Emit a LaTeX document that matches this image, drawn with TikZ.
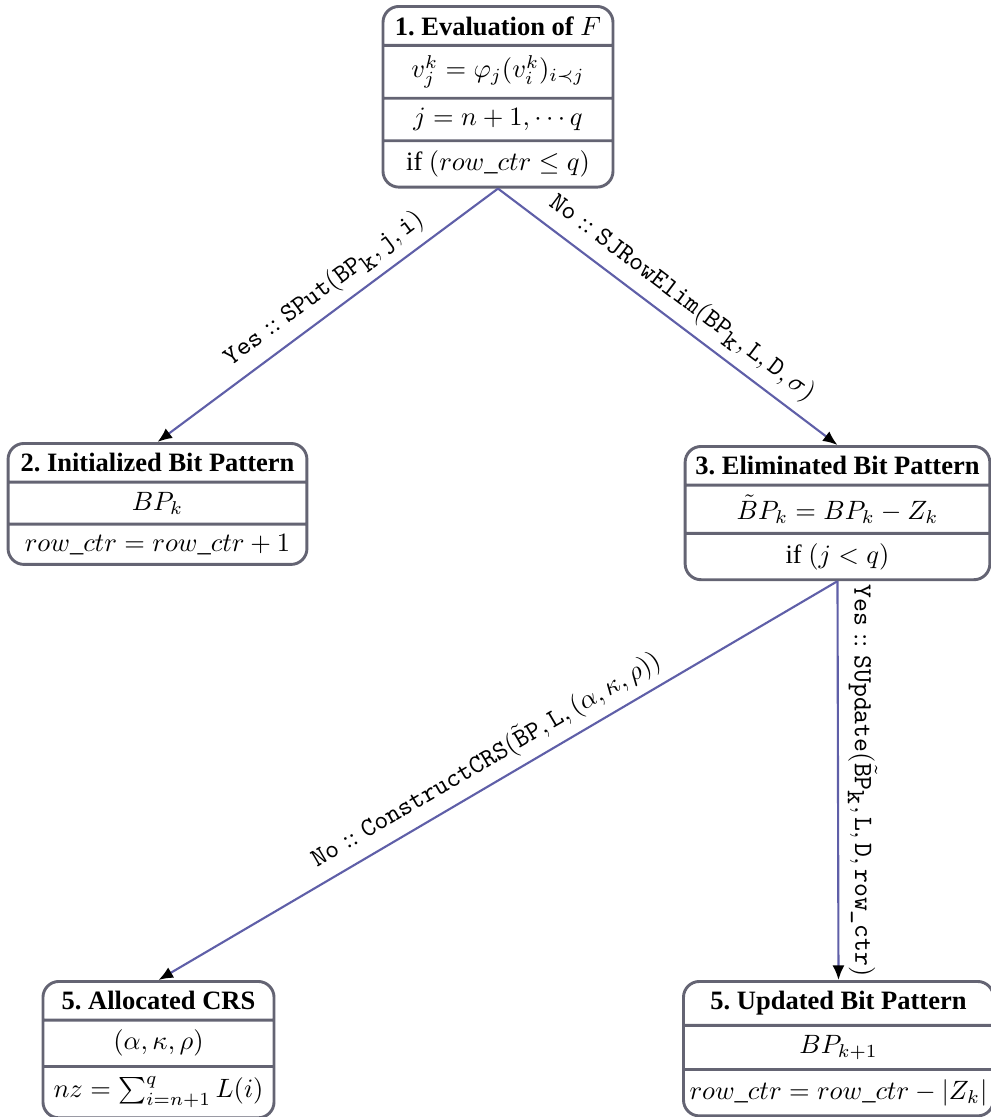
\documentclass[tikz,border=0pt]{standalone}
\usepackage[no-math]{fontspec}
\setmainfont{Liberation Serif}
\usetikzlibrary{shapes.multipart,arrows.meta}
\frenchspacing

\definecolor{boxgray}{RGB}{100,100,115}
\definecolor{flowblue}{RGB}{95,95,168}

\begin{document}
\begin{tikzpicture}[x=0.3774pt, y=-0.3774pt]
\tikzset{stage/.style={rectangle split, rectangle split parts=#1, draw=boxgray,
    line width=1.1pt, rounded corners=6pt, inner xsep=1.5pt, inner ysep=3.2pt,
    align=flush center, anchor=north},
  flow/.style={draw=flowblue, line width=0.8pt, -{Latex[black,length=5.5pt,width=4.5pt]}},
  cond/.style={sloped, above}}
\useasboundingbox (0,0) rectangle (991,1117);
% the stages
\node[stage=4, text width=83.8pt] (eval) at (498,5) {\textbf{1. Evaluation of $F$}
  \nodepart{two} $v_j^k=\varphi_j(v_i^k)_{i\prec j}$
  \nodepart{three} $j=n+1,\cdots q$
  \nodepart{four} if $(row\_ctr\leq q)$};
\node[stage=3, text width=109.8pt] (init) at (157.5,442) {\textbf{2. Initialized Bit Pattern}
  \nodepart{two} $BP_k$
  \nodepart{three} $row\_ctr=row\_ctr+1$};
\node[stage=3, text width=112pt] (elim) at (837.5,445) {\textbf{3. Eliminated Bit Pattern}
  \nodepart{two} $\tilde{B}P_k=BP_k-Z_k$
  \nodepart{three} if $(j<q)$};
\node[stage=3, text width=84.2pt] (crs) at (158.5,980) {\textbf{5. Allocated CRS}
  \nodepart{two} $(\alpha,\kappa,\rho)$
  \nodepart{three} $nz=\sum_{i=n+1}^{q}L(i)$};
\node[stage=3, text width=114pt] (upd) at (838.5,980) {\textbf{5. Updated Bit Pattern}
  \nodepart{two} $BP_{k+1}$
  \nodepart{three} $row\_ctr=row\_ctr-|Z_k|$};
% transitions
\foreach \from/\to/\where/\lbl in {
  eval/init/0.47/{$\texttt{Yes}::\texttt{SPut}(\texttt{BP}_{\texttt{k}},\texttt{j},\texttt{i})$},
  eval/elim/0.5/{$\texttt{No}::\texttt{SJRowElim}(\texttt{BP}_{\texttt{k}},\texttt{L},\texttt{D},\sigma)$},
  elim/crs/0.5/{$\texttt{No}::\texttt{ConstructCRS}(\tilde{\texttt{B}}\texttt{P},\texttt{L},(\alpha,\kappa,\rho))$},
  elim/upd/0.5/{$\texttt{Yes}::\texttt{SUpdate}(\tilde{\texttt{B}}\texttt{P}_{\texttt{k}},\texttt{L},\texttt{D},\texttt{row\_ctr})$}}
\draw[flow] (\from.south) -- node[cond, pos=\where] {\lbl} (\to.north);
\end{tikzpicture}
\end{document}
